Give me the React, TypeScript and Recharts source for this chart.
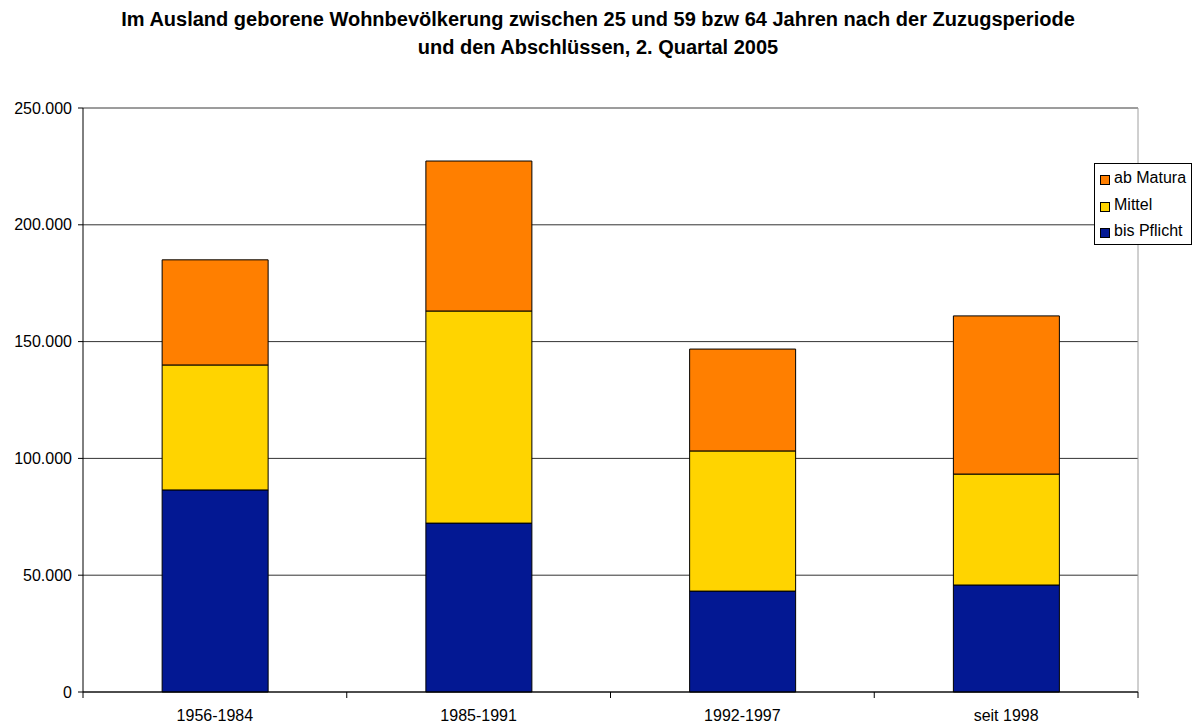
import React from "react";
import {
  BarChart,
  Bar,
  XAxis,
  YAxis,
  CartesianGrid,
  ReferenceLine,
} from "recharts";

const ORANGE = "#ff7f00";
const YELLOW = "#ffd400";
const BLUE = "#031893";
const FONT = "'Liberation Sans', Arial, sans-serif";
const PLOT_BOTTOM = 692;

const perioden = ["1956-1984", "1985-1991", "1992-1997", "seit 1998"];
const bisPflicht = [86500, 72300, 43200, 45800];
const mittel = [53500, 90800, 60000, 47500];
const abMatura = [45000, 64200, 43600, 67700];
const yTicks = [0, 50000, 100000, 150000, 200000, 250000];
const grenzen = [0, 1, 2, 3, 4];

const data = perioden.map((p, i) => ({
  periode: p,
  idx: i + 0.5,
  bisPflicht: bisPflicht[i],
  mittel: mittel[i],
  abMatura: abMatura[i],
}));

const legendItems = [
  { name: "ab Matura", color: ORANGE },
  { name: "Mittel", color: YELLOW },
  { name: "bis Pflicht", color: BLUE },
];

function fmt(v: number) {
  return v === 0 ? "0" : v.toLocaleString("de-DE");
}

function LegendBox() {
  return (
    <div
      style={{
        position: "absolute",
        left: 1094,
        top: 163,
        width: 98,
        height: 82,
        border: "1px solid #000",
        background: "#fff",
        padding: "1px 0 0 5px",
        boxSizing: "border-box",
        fontFamily: FONT,
        fontSize: 16,
        color: "#000",
      }}
    >
      {legendItems.map((it) => (
        <div key={it.name} style={{ display: "flex", alignItems: "center", height: 26.5, whiteSpace: "nowrap" }}>
          <span
            style={{
              display: "inline-block",
              width: 8,
              height: 8,
              background: it.color,
              border: "1px solid #000",
              marginRight: 4,
              marginTop: 4,
            }}
          />
          {it.name}
        </div>
      ))}
    </div>
  );
}

// Trennstriche zwischen den Kategorien
function BoundaryTick(props: any) {
  const { x } = props;
  return <line x1={x} x2={x} y1={PLOT_BOTTOM} y2={PLOT_BOTTOM + 6} stroke="#000" strokeWidth={1} />;
}

export default function App() {
  return (
    <div style={{ position: "absolute", left: 0, top: 0, width: 1196, height: 725, background: "#fff" }}>
      <div
        style={{
          position: "absolute",
          left: 0,
          top: 5,
          width: 1196,
          textAlign: "center",
          fontFamily: FONT,
          fontWeight: "bold",
          fontSize: 20,
          lineHeight: "28px",
          color: "#000",
        }}
      >
        Im Ausland geborene Wohnbevölkerung zwischen 25 und 59 bzw 64 Jahren nach der Zuzugsperiode
        <br />
        und den Abschlüssen, 2. Quartal 2005
      </div>
      <BarChart
        width={1196}
        height={725}
        data={data}
        margin={{ top: 108, right: 58, left: 0, bottom: 3 }}
        barCategoryGap="30%"
        style={{ position: "absolute", left: 0, top: 0 }}
      >
        <CartesianGrid vertical={false} horizontal={true} stroke="#333" strokeWidth={1} xAxisId="cat" />
        <ReferenceLine y={250000} stroke="#a0a0a0" xAxisId="cat" />
        <ReferenceLine x={4} stroke="#a0a0a0" xAxisId="num" />
        <YAxis
          width={83}
          domain={[0, 250000]}
          ticks={yTicks}
          interval={0}
          tickFormatter={fmt}
          tick={{ fontSize: 16, fontFamily: FONT, fill: "#000" }}
          tickSize={5}
          tickMargin={6}
          tickLine={{ stroke: "#000" }}
          axisLine={{ stroke: "#000" }}
        />
        <XAxis
          xAxisId="cat"
          dataKey="periode"
          height={22}
          axisLine={{ stroke: "#000" }}
          tickLine={false}
          tick={{ fontSize: 16, fontFamily: FONT, fill: "#000", dy: 10 }}
        />
        <XAxis
          xAxisId="num"
          type="number"
          dataKey="idx"
          domain={[0, 4]}
          ticks={grenzen}
          interval={0}
          height={8}
          tick={<BoundaryTick />}
          tickLine={false}
          axisLine={false}
        />
        <Bar xAxisId="cat" dataKey="bisPflicht" stackId="a" fill={BLUE} stroke="#000" strokeWidth={1} name="bis Pflicht" isAnimationActive={false} />
        <Bar xAxisId="cat" dataKey="mittel" stackId="a" fill={YELLOW} stroke="#000" strokeWidth={1} name="Mittel" isAnimationActive={false} />
        <Bar xAxisId="cat" dataKey="abMatura" stackId="a" fill={ORANGE} stroke="#000" strokeWidth={1} name="ab Matura" isAnimationActive={false} />
      </BarChart>
      <LegendBox />
    </div>
  );
}
